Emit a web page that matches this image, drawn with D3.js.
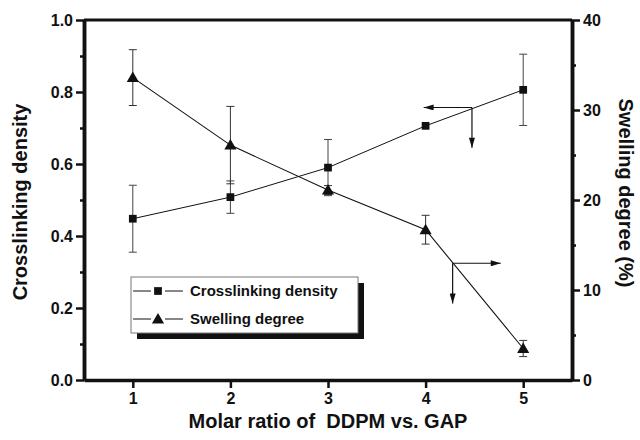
<!DOCTYPE html>
<html>
<head>
<meta charset="utf-8">
<title>Crosslinking density and swelling degree</title>
<script src="https://cdn.jsdelivr.net/npm/d3@7"></script>
<style>
  body { margin: 0; background: #fff; }
  text { font-family: "Liberation Sans", Arial, sans-serif; font-weight: bold; fill: #111; }
</style>
</head>
<body>
<svg width="640" height="440" id="mainsvg"></svg>
<script>
// data
const ratios = [1, 2, 3, 4, 5];
const crossDensity = [0.448, 0.508, 0.590, 0.706, 0.806];
const crossErr = [0.093, 0.045, 0.078, 0.0, 0.099];
const swelling = [33.6, 26.1, 21.1, 16.7, 3.5];
const swellErr = [3.1, 4.3, 0.5, 1.6, 0.9];
const leftTicks = [0, 0.2, 0.4, 0.6, 0.8, 1.0];
const rightTicks = [0, 10, 20, 30, 40];
const legendNames = ['Crosslinking density', 'Swelling degree'];

const svg = d3.select('#mainsvg');
const margin = { top: 20, right: 68, bottom: 60, left: 84 };
const width = +svg.attr('width');
const height = +svg.attr('height');
const innerWidth = width - margin.left - margin.right;
const innerHeight = height - margin.top - margin.bottom;

const g = svg.append('g')
  .attr('transform', `translate(${margin.left},${margin.top})`);

const x = d3.scaleLinear().domain([0.5, 5.5]).range([0, innerWidth]);
const yL = d3.scaleLinear().domain([0, 1]).range([innerHeight, 0]);
const yR = d3.scaleLinear().domain([0, 40]).range([innerHeight, 0]);

// frame: top line
g.append('line')
  .attr('x1', 0).attr('x2', innerWidth).attr('y1', 0).attr('y2', 0)
  .attr('stroke', '#111').attr('stroke-width', 3);

// axes
function styleAxis(sel) {
  sel.select('.domain').attr('stroke', '#111').attr('stroke-width', 3.5);
  sel.selectAll('.tick line').attr('stroke', '#111').attr('stroke-width', 2.5);
  sel.selectAll('.tick text')
    .style('font-size', '16px').style('font-weight', 'bold')
    .style('font-family', '"Liberation Sans", Arial, sans-serif');
}

const minorL = [0.1, 0.3, 0.5, 0.7, 0.9];
const minorR = [5, 15, 25, 35];

g.append('g').attr('transform', `translate(0,${innerHeight})`)
  .call(d3.axisBottom(x).tickValues(ratios).tickFormat(d3.format('d'))
    .tickSize(8).tickPadding(5).tickSizeOuter(0))
  .call(styleAxis);

g.append('g')
  .call(d3.axisLeft(yL).tickValues(leftTicks).tickFormat(d3.format('.1f'))
    .tickSize(8).tickPadding(3).tickSizeOuter(0))
  .call(styleAxis);
g.append('g')
  .call(d3.axisLeft(yL).tickValues(minorL).tickSize(4).tickSizeOuter(0))
  .call(styleAxis)
  .call(s => s.selectAll('.tick text').remove());

g.append('g').attr('transform', `translate(${innerWidth},0)`)
  .call(d3.axisRight(yR).tickValues(rightTicks).tickSize(8).tickPadding(3).tickSizeOuter(0))
  .call(styleAxis);
g.append('g').attr('transform', `translate(${innerWidth},0)`)
  .call(d3.axisRight(yR).tickValues(minorR).tickSize(4).tickSizeOuter(0))
  .call(styleAxis)
  .call(s => s.selectAll('.tick text').remove());

// axis titles
svg.append('text')
  .attr('transform', `translate(27,${margin.top + innerHeight / 2 + 2}) rotate(-90)`)
  .attr('text-anchor', 'middle').style('font-size', '20px')
  .text('Crosslinking density');

svg.append('text')
  .attr('transform', `translate(619,${margin.top + innerHeight / 2 - 7}) rotate(90)`)
  .attr('text-anchor', 'middle').style('font-size', '20px')
  .text('Swelling degree (%)');

svg.append('text')
  .attr('x', margin.left + x(3)).attr('y', 428)
  .attr('text-anchor', 'middle').style('font-size', '20px')
  .style('white-space', 'pre')
  .text('Molar ratio of  DDPM vs. GAP');

// series data
const crossData = ratios.map((r, i) => ({ x: r, y: crossDensity[i], e: crossErr[i] }));
const swellData = ratios.map((r, i) => ({ x: r, y: swelling[i], e: swellErr[i] }));

function drawErrors(data, yScale, color) {
  const eg = g.append('g').attr('stroke', color).attr('stroke-width', 1);
  data.filter(d => d.e > 0).forEach(d => {
    const cx = x(d.x), top = yScale(d.y + d.e), bot = yScale(d.y - d.e);
    eg.append('line').attr('x1', cx).attr('x2', cx).attr('y1', top).attr('y2', bot);
    eg.append('line').attr('x1', cx - 4).attr('x2', cx + 4).attr('y1', top).attr('y2', top);
    eg.append('line').attr('x1', cx - 4).attr('x2', cx + 4).attr('y1', bot).attr('y2', bot);
  });
}

drawErrors(crossData, yL, '#444');
drawErrors(swellData, yR, '#333');

g.append('path').datum(crossData)
  .attr('fill', 'none').attr('stroke', '#111').attr('stroke-width', 1)
  .attr('d', d3.line().x(d => x(d.x)).y(d => yL(d.y)));
g.append('path').datum(swellData)
  .attr('fill', 'none').attr('stroke', '#111').attr('stroke-width', 1.1)
  .attr('d', d3.line().x(d => x(d.x)).y(d => yR(d.y)));

const sq = d3.symbol().type(d3.symbolSquare).size(60);
const tri = d3.symbol().type(d3.symbolTriangle).size(64);

g.selectAll('.sq').data(crossData).join('path').attr('class', 'sq')
  .attr('transform', d => `translate(${x(d.x)},${yL(d.y)})`)
  .attr('d', sq).attr('fill', '#111');
g.selectAll('.tri').data(swellData).join('path').attr('class', 'tri')
  .attr('transform', d => `translate(${x(d.x)},${yR(d.y) + 1})`)
  .attr('d', tri).attr('fill', '#111');

// arrows pointing to the axis each curve belongs to
svg.append('defs').append('marker')
  .attr('id', 'head').attr('viewBox', '0 0 10 6').attr('refX', 10).attr('refY', 3)
  .attr('markerWidth', 12).attr('markerHeight', 6).attr('markerUnits', 'userSpaceOnUse')
  .attr('orient', 'auto')
  .append('path').attr('d', 'M0,0L10,3L0,6Z').attr('fill', '#111');

function arrow(x1, y1, x2, y2) {
  g.append('line')
    .attr('x1', x1).attr('y1', y1).attr('x2', x2).attr('y2', y2)
    .attr('stroke', '#111').attr('stroke-width', 1.2)
    .attr('marker-end', 'url(#head)');
}
// crosslinking -> left axis
arrow(x(4.475), yL(0.757), x(3.98), yL(0.757));
arrow(x(4.475), yL(0.757), x(4.475), yL(0.645));
// swelling -> right axis
arrow(x(4.277), yR(12.97), x(4.77), yR(12.97));
arrow(x(4.277), yR(12.97), x(4.277), yR(8.5));

// legend with drop shadow
const lg = svg.append('g').attr('transform', 'translate(131,277)');
const lw = 227, lh = 56;
lg.append('rect').attr('x', 6).attr('y', 6).attr('width', lw).attr('height', lh).attr('fill', '#111');
lg.append('rect').attr('width', lw).attr('height', lh)
  .attr('fill', '#fff').attr('stroke', '#777').attr('stroke-width', 1);

const shapes = [sq, tri];
legendNames.forEach((name, i) => {
  const yy = 14 + i * 28;
  lg.append('line').attr('x1', 2).attr('x2', 20).attr('y1', yy).attr('y2', yy).attr('stroke', '#111');
  lg.append('line').attr('x1', 34).attr('x2', 52).attr('y1', yy).attr('y2', yy).attr('stroke', '#111');
  lg.append('path').attr('d', shapes[i]).attr('fill', '#111')
    .attr('transform', `translate(27,${yy + (i === 1 ? 1 : 0)})`);
  lg.append('text').attr('x', 59).attr('y', yy + 5)
    .style('font-size', '15px').text(name);
});
</script>
</body>
</html>
